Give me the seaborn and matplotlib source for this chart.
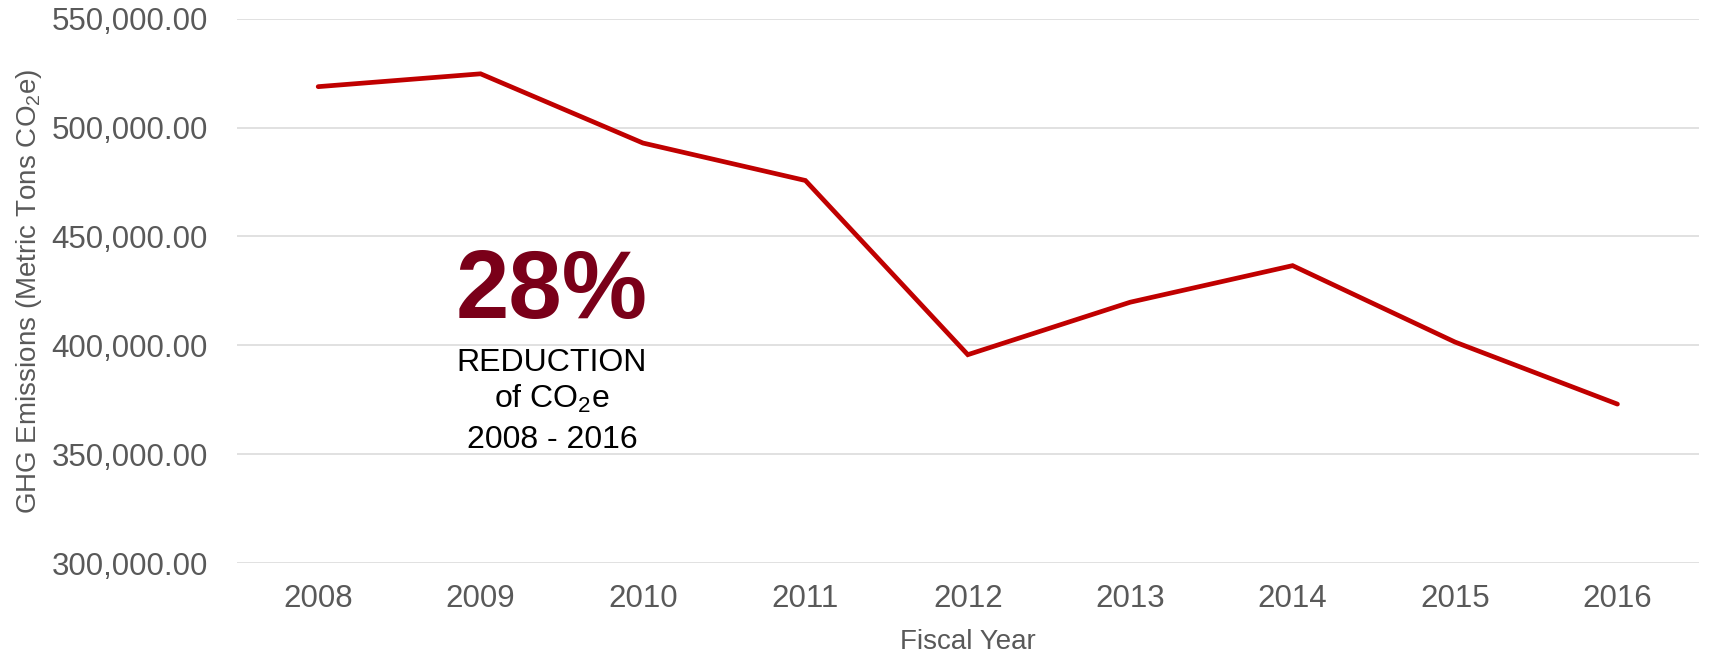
import matplotlib
matplotlib.use("Agg")
import pandas as pd
import matplotlib.pyplot as plt
import seaborn as sns
from matplotlib.ticker import FuncFormatter

# -----------------------------
# Data
# -----------------------------
years = ["2008", "2009", "2010", "2011", "2012", "2013", "2014", "2015", "2016"]
emissions = [518800, 524700, 492900, 475700, 395700, 419800, 436600, 401500, 373000]
y_ticks = [300000, 350000, 400000, 450000, 500000, 550000]

df = pd.DataFrame({"Fiscal Year": years, "Emissions": emissions})

# -----------------------------
# Style
# -----------------------------
sns.set_style("white")
plt.rcParams["font.family"] = ["Liberation Sans", "DejaVu Sans"]
plt.rcParams["mathtext.fontset"] = "custom"
plt.rcParams["mathtext.rm"] = "Liberation Sans"
plt.rcParams["mathtext.it"] = "Liberation Sans:italic"
plt.rcParams["mathtext.bf"] = "Liberation Sans:bold"

grey = "#595959"

fig = plt.figure(figsize=(17.21, 6.57), dpi=100)
ax = fig.add_axes([0.1377, 0.143, 0.8493, 0.8285])

sns.lineplot(
    data=df,
    x="Fiscal Year",
    y="Emissions",
    color="#c00000",
    linewidth=3.4,
    solid_capstyle="round",
    solid_joinstyle="miter",
    ax=ax
)

ax.set_xlim(-0.5, len(years) - 0.5)
ax.set_ylim(300000, 550000)
ax.set_yticks(y_ticks)
ax.yaxis.set_major_formatter(FuncFormatter(lambda v, p: f"{v:,.2f}"))

ax.grid(axis="y", color="#d9d9d9", linewidth=1.1)
ax.grid(axis="x", visible=False)
ax.set_axisbelow(True)
for s in ax.spines.values():
    s.set_visible(False)

ax.tick_params(axis="y", length=0, pad=21, labelsize=22.5, labelcolor=grey)
ax.tick_params(axis="x", length=0, pad=15, labelsize=22.5, labelcolor=grey)

ax.set_xlabel("Fiscal Year", fontsize=20, color=grey, labelpad=11)
ax.set_ylabel("GHG Emissions (Metric Tons CO$_2$e)", fontsize=20, color=grey, labelpad=5.5)

# -----------------------------
# Annotation
# -----------------------------
ax.text(1.44, 412600, "28%", fontsize=69, fontweight="bold", color="#7a0019",
        ha="center", va="baseline")
ax.text(1.44, 388300, "REDUCTION", fontsize=23, color="black", ha="center", va="baseline")
ax.text(1.44, 371100, "of CO$_2$e", fontsize=23, color="black", ha="center", va="baseline")
ax.text(1.44, 352800, "2008 - 2016", fontsize=23, color="black", ha="center", va="baseline")

fig.savefig("out.png", dpi=100)
